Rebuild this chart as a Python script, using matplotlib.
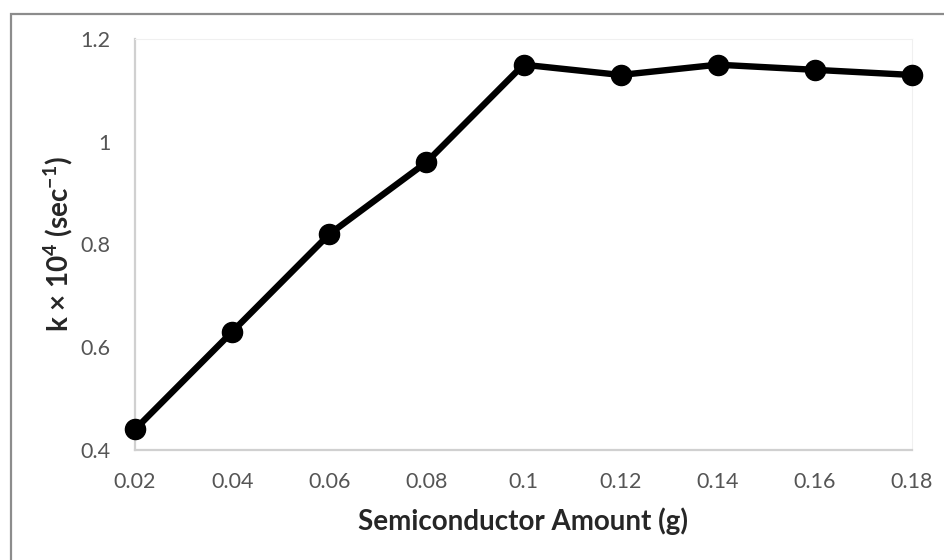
import matplotlib
matplotlib.use("Agg")
import matplotlib.pyplot as plt
from matplotlib.patches import Rectangle

amount = [0.02, 0.04, 0.06, 0.08, 0.10, 0.12, 0.14, 0.16, 0.18]
k_values = [0.44, 0.63, 0.82, 0.96, 1.15, 1.13, 1.15, 1.14, 1.13]
x_ticks = [0.02, 0.04, 0.06, 0.08, 0.10, 0.12, 0.14, 0.16, 0.18]
x_tick_labels = ["0.02", "0.04", "0.06", "0.08", "0.1", "0.12", "0.14", "0.16", "0.18"]
y_ticks = [0.4, 0.6, 0.8, 1.0, 1.2]
y_tick_labels = ["0.4", "0.6", "0.8", "1", "1.2"]

plt.rcParams['font.family'] = ['Lato', 'DejaVu Sans']
plt.rcParams['mathtext.fontset'] = 'custom'
plt.rcParams['mathtext.rm'] = 'Lato'
plt.rcParams['mathtext.bf'] = 'Lato:bold'

W, H = 944, 560
fig = plt.figure(figsize=(W/100, H/100), dpi=100)
ax = fig.add_axes([135/W, 1-450/H, (912-135)/W, (450-39)/H])

ax.plot(amount, k_values, color='black', linewidth=4.6, marker='o',
        markersize=14.5, markerfacecolor='black', markeredgecolor='black', zorder=3,
        clip_on=False)

ax.set_xlim(0.02, 0.18)
ax.set_ylim(0.4, 1.2)
ax.set_xticks(x_ticks)
ax.set_xticklabels(x_tick_labels)
ax.set_yticks(y_ticks)
ax.set_yticklabels(y_tick_labels)
ax.tick_params(axis='both', length=0, labelsize=15.5, labelcolor='#555555')
ax.tick_params(axis='x', pad=15.5)
ax.tick_params(axis='y', pad=17.5)

for side in ['top', 'right']:
    ax.spines[side].set_color('#f0f0f0')
    ax.spines[side].set_linewidth(0.8)
for side in ['left', 'bottom']:
    ax.spines[side].set_color('#d0d0d0')
    ax.spines[side].set_linewidth(1.6)

ax.set_xlabel('Semiconductor Amount (g)', fontsize=20, fontweight='bold', color='#262626')
ax.xaxis.label.set_va('center')
ax.xaxis.set_label_coords(0.5, (450-521)/(450-39))

ax.set_ylabel(r'k × 10$^{\mathbf{4}}$ (sec$^{\mathbf{-1}}$)', fontsize=20, fontweight='bold', color='#262626')
ax.yaxis.label.set_va('center')
ax.yaxis.set_label_coords((58-135)/(912-135), 0.5)

fig.patches.append(Rectangle((10.5/W, -0.1), 1.2, 1 - 13.5/H + 0.1,
                             transform=fig.transFigure, fill=False,
                             edgecolor='#8c8c8c', linewidth=1.6))

fig.savefig('out.png', dpi=100)
